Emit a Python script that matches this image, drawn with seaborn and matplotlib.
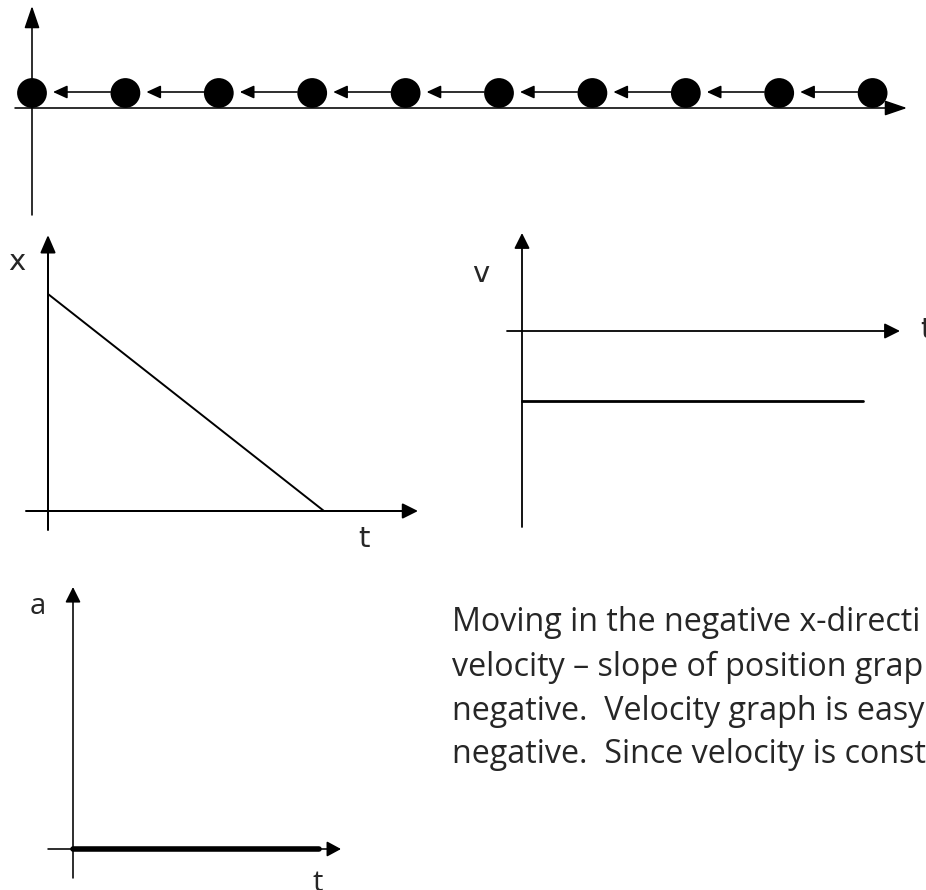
import matplotlib
matplotlib.use("Agg")
import matplotlib.pyplot as plt
import seaborn as sns
import pandas as pd

W, H = 926, 890

# ---------------- data ----------------
dot_positions = [0, 1, 2, 3, 4, 5, 6, 7, 8, 9]      # equally spaced snapshots (moving left)
xt_time = [0, 10]
xt_position = [10, 0]
vt_time = [0, 10]
vt_velocity = [-1, -1]
at_time = [0, 10]
at_accel = [0, 0]
label_x, label_v, label_a, label_t = "x", "v", "a", "t"
text_lines = [
    "Moving in the negative x-directi",
    "velocity \u2013 slope of position graph",
    "negative.  Velocity graph is easy",
    "negative.  Since velocity is const",
]

sns.set_theme(style="white")
plt.rcParams['font.family'] = ['DejaVu Sans']

fig = plt.figure(figsize=(W / 100, H / 100), dpi=100)
fig.patch.set_facecolor("white")


def px_axes(rect, origin, sx, sy):
    x0, y0, w, h = rect
    ax = fig.add_axes([x0 / W, 1 - (y0 + h) / H, w / W, h / H])
    ax.set_axis_off()
    ox, oy = origin
    ax.set_xlim((x0 - ox) / sx, (x0 + w - ox) / sx)
    ax.set_ylim((oy - (y0 + h)) / sy, (oy - y0) / sy)
    return ax


# overlay in pixel coordinates for the drawn axes (decoration)
ov = fig.add_axes([0, 0, 1, 1])
ov.set_axis_off()
ov.set_xlim(0, W)
ov.set_ylim(H, 0)


def axis_arrow(x1, y1, x2, y2, lw=1.6, hl=14, hw=13):
    ov.annotate("", xy=(x2, y2), xytext=(x1, y1),
                arrowprops=dict(arrowstyle=f"-|>,head_length={hl*0.72},head_width={hw*0.36}",
                                mutation_scale=1, lw=lw * 0.72, color="black",
                                shrinkA=0, shrinkB=0))


# ---------------- strip of positions ----------------
sx_strip = 93.4
ax_s = px_axes((0, 0, W, 220), (32, 108), sx_strip, 1.0)
axis_arrow(15, 108, 907, 108, lw=1.6, hl=19, hw=13)
axis_arrow(32, 215, 32, 6, lw=1.6, hl=19, hw=13)
sns.scatterplot(x=dot_positions, y=[15] * len(dot_positions), s=460, color="black",
                edgecolor="none", ax=ax_s, legend=False, zorder=5)
ax_s.set_axis_off()
for i in range(len(dot_positions) - 1):
    ax_s.annotate("", xy=(dot_positions[i] + 21 / sx_strip, 16),
                  xytext=(dot_positions[i + 1] - 15 / sx_strip, 16),
                  arrowprops=dict(arrowstyle=f"-|>,head_length={12*0.72},head_width={5.5*0.72}",
                                  mutation_scale=1, lw=1.6 * 0.72, color="black",
                                  shrinkA=0, shrinkB=0))

# ---------------- x-t graph ----------------
ax_x = px_axes((0, 220, 460, 360), (48, 511), 27.6, 21.7)
axis_arrow(26, 511, 418, 511, lw=2.0, hl=13, hw=13)
axis_arrow(48, 530, 48, 235, lw=2.0, hl=15, hw=13)
sns.lineplot(x=xt_time, y=xt_position, color="black", lw=1.4, ax=ax_x)
ax_x.set_axis_off()
fig.text(17 / W, 1 - 262 / H, label_x, fontsize=21, ha="center", va="center")
fig.text(364 / W, 1 - 539 / H, label_t, fontsize=21, ha="center", va="center")

# ---------------- v-t graph ----------------
ax_v = px_axes((460, 220, 466, 360), (522, 331), 34.1, 70.0)
axis_arrow(507, 331, 900, 331, lw=1.8, hl=13, hw=13)
axis_arrow(522, 527, 522, 233, lw=1.8, hl=13, hw=13)
sns.lineplot(x=vt_time, y=vt_velocity, color="black", lw=2.0, ax=ax_v)
ax_v.set_axis_off()
fig.text(481 / W, 1 - 274 / H, label_v, fontsize=21, ha="center", va="center")
fig.text(920 / W, 1 - 330 / H, label_t, fontsize=21, ha="left", va="center")

# ---------------- a-t graph ----------------
ax_a = px_axes((0, 580, 380, 310), (73, 849), 24.6, 24.6)
axis_arrow(48, 849, 341, 849, lw=1.6, hl=12, hw=13)
axis_arrow(73, 878, 73, 587, lw=1.6, hl=13, hw=13)
sns.lineplot(x=at_time, y=at_accel, color="black", lw=4.0, ax=ax_a)
ax_a.set_axis_off()
para_font = ["Open Sans", "DejaVu Sans"]
fig.text(38 / W, 1 - 606 / H, label_a, fontsize=21, ha="center", va="center", family=para_font)
fig.text(318 / W, 1 - 869 / H, label_t, fontsize=21, ha="center", va="top", family=para_font)

# ---------------- paragraph ----------------
baselines = [631, 676, 720, 763]
texts = []
for line, b in zip(text_lines, baselines):
    texts.append(fig.text(452 / W, 1 - b / H, line, fontsize=20, ha="left",
                          va="baseline", family=para_font))
# fit font size so the last line reaches the right edge like the reference
renderer = fig.canvas.get_renderer()
wdt = texts[3].get_window_extent(renderer).width
fs = 20 * (926 - 452) / wdt
for t in texts:
    t.set_fontsize(fs)

fig.savefig("out.png", dpi=100)
